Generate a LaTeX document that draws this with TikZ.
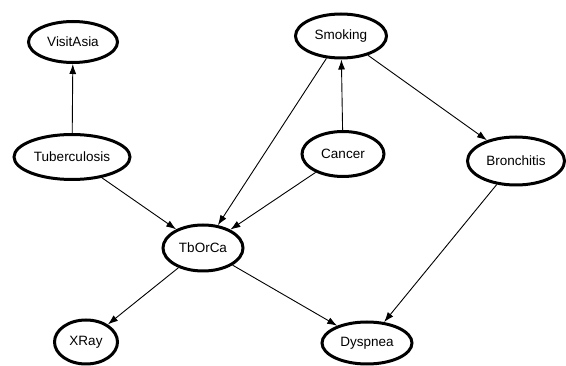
\documentclass[tikz,border=0pt]{standalone}
\usepackage{fontspec}
\setmainfont{Liberation Sans}
\usetikzlibrary{shapes.geometric,arrows.meta}

\tikzset{
  var/.style={ellipse,draw,line width=3pt,inner sep=0pt},
  dep/.style={->,line width=0.9pt}
}

\begin{document}
\begin{tikzpicture}[x=1pt,y=-1pt,font=\fontsize{13.5}{15}\selectfont,>={Latex[length=10pt,width=7pt]}]
  \useasboundingbox (0,0) rectangle (566,366);
  \node[var,minimum width=89,minimum height=41] (visit) at (73,42){VisitAsia};
  \node[var,minimum width=116,minimum height=45] (tub) at (72,157){Tuberculosis};
  \node[var,minimum width=91,minimum height=44] (smoke) at (341,36){Smoking};
  \node[var,minimum width=82,minimum height=45] (cancer) at (343,154){Cancer};
  \node[var,minimum width=97,minimum height=48] (bron) at (516,161){Bronchitis};
  \node[var,minimum width=80,minimum height=46] (either) at (203,248){TbOrCa};
  \node[var,minimum width=63,minimum height=44] (xray) at (86,342){XRay};
  \node[var,minimum width=90,minimum height=42] (dysp) at (367,343){Dyspnea};
  \draw[dep] (tub) -- (visit);
  \draw[dep] (cancer) -- (smoke);
  \draw[dep] (smoke) -- (bron);
  \draw[dep] (smoke) -- (either);
  \draw[dep] (cancer) -- (either);
  \draw[dep] (tub) -- (either);
  \draw[dep] (either) -- (xray);
  \draw[dep] (either) -- (dysp);
  \draw[dep] (bron) -- (dysp);
\end{tikzpicture}
\end{document}
